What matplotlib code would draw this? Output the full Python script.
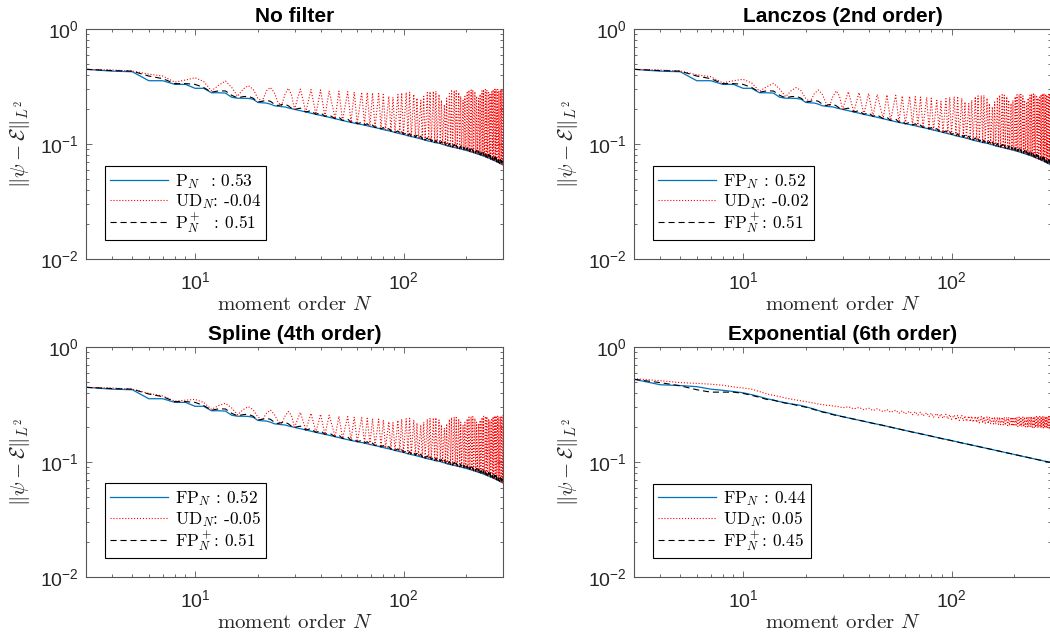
import matplotlib
matplotlib.use("Agg")
import matplotlib.pyplot as plt
from matplotlib.ticker import LogLocator, NullFormatter
import numpy as np

plt.rcParams['font.family'] = ['Liberation Sans', 'DejaVu Sans']
plt.rcParams['mathtext.fontset'] = 'cm'
plt.rcParams['axes.unicode_minus'] = False

# moment orders: every order up to 29, then alternating troughs / peaks of the UD oscillation
n_lo = list(range(3, 30))
n_trough = [30, 34, 38, 42, 47, 51, 56, 60, 65, 69,
            73, 78, 82, 87, 91, 96, 100, 105, 109, 114,
            118, 123, 127, 132, 136, 141, 145, 150, 154, 159,
            163, 168, 172, 177, 181, 186, 190, 195, 199, 204,
            208, 213, 217, 222, 226, 231, 235, 240, 244, 249,
            253, 258, 262, 267, 271, 276, 280, 285, 289, 294, 298]
n_peak = [32, 36, 40, 44, 49, 54, 58, 63, 67, 71,
          76, 80, 85, 89, 94, 98, 103, 107, 112, 116,
          121, 125, 130, 134, 139, 143, 148, 152, 157, 161,
          166, 170, 175, 179, 184, 188, 193, 197, 202, 206,
          211, 215, 220, 224, 229, 233, 238, 242, 247, 251,
          256, 260, 265, 269, 274, 278, 283, 287, 292, 296, 300]

# P_N / FP_N error (first three filters give the same curve)
pn_lo = [0.446, 0.43, 0.425, 0.355, 0.355, 0.33, 0.33, 0.305, 0.305, 0.279,
         0.279, 0.277, 0.255, 0.25, 0.25, 0.249, 0.245, 0.23, 0.228, 0.227,
         0.222, 0.215, 0.213, 0.211, 0.21, 0.206, 0.203]
pn_hi = [0.200, 0.190, 0.181, 0.174, 0.166, 0.160, 0.154, 0.150, 0.146, 0.142,
         0.139, 0.135, 0.132, 0.129, 0.126, 0.123, 0.121, 0.118, 0.116, 0.114,
         0.112, 0.110, 0.108, 0.106, 0.105, 0.103, 0.102, 0.101, 0.099, 0.098,
         0.096, 0.095, 0.094, 0.093, 0.092, 0.091, 0.090, 0.089, 0.088, 0.087,
         0.086, 0.085, 0.084, 0.083, 0.082, 0.081, 0.080, 0.079, 0.078, 0.077,
         0.076, 0.075, 0.074, 0.073, 0.072, 0.071, 0.070, 0.069, 0.068, 0.067, 0.066]

# P_N^+ error
pnp_lo = [0.446, 0.435, 0.43, 0.39, 0.37, 0.335, 0.335, 0.33, 0.31, 0.282,
          0.29, 0.289, 0.265, 0.252, 0.258, 0.26, 0.25, 0.232, 0.235, 0.24,
          0.235, 0.222, 0.216, 0.22, 0.222, 0.215, 0.205]
pnp_pk = [0.205, 0.195, 0.187, 0.179, 0.171, 0.165, 0.159, 0.154, 0.150, 0.146,
          0.143, 0.139, 0.136, 0.133, 0.130, 0.128, 0.125, 0.123, 0.121, 0.119,
          0.117, 0.115, 0.113, 0.111, 0.110, 0.108, 0.107, 0.105, 0.104, 0.102,
          0.101, 0.100, 0.099, 0.098, 0.097, 0.096, 0.095, 0.094, 0.093, 0.092,
          0.091, 0.090, 0.089, 0.088, 0.087, 0.086, 0.085, 0.084, 0.083, 0.082,
          0.081, 0.080, 0.079, 0.078, 0.077, 0.076, 0.075, 0.074, 0.073, 0.072, 0.071]

# UD_N error, one list per filter
ud_none_lo = [0.446, 0.44, 0.432, 0.405, 0.39, 0.345, 0.36, 0.377, 0.35, 0.29,
              0.325, 0.353, 0.31, 0.26, 0.30, 0.322, 0.30, 0.25, 0.235, 0.29,
              0.31, 0.28, 0.23, 0.215, 0.27, 0.305, 0.27]
ud_none_pk = [0.300, 0.298, 0.295, 0.290, 0.288, 0.285, 0.283, 0.282, 0.280, 0.278,
              0.275, 0.270, 0.260, 0.255, 0.270, 0.278, 0.280, 0.282, 0.270, 0.250,
              0.240, 0.260, 0.280, 0.285, 0.287, 0.288, 0.270, 0.240, 0.220, 0.250,
              0.275, 0.290, 0.292, 0.290, 0.280, 0.260, 0.240, 0.260, 0.280, 0.293,
              0.295, 0.295, 0.285, 0.260, 0.250, 0.270, 0.290, 0.297, 0.298, 0.295,
              0.280, 0.270, 0.285, 0.296, 0.300, 0.300, 0.298, 0.290, 0.295, 0.300, 0.302]

ud_lanczos_lo = [0.446, 0.44, 0.432, 0.40, 0.385, 0.34, 0.355, 0.365, 0.34, 0.288,
                 0.315, 0.337, 0.30, 0.258, 0.29, 0.31, 0.29, 0.248, 0.233, 0.275,
                 0.295, 0.27, 0.228, 0.214, 0.26, 0.29, 0.262]
ud_lanczos_pk = [0.285, 0.280, 0.275, 0.270, 0.268, 0.265, 0.262, 0.260, 0.258, 0.256,
                 0.254, 0.250, 0.240, 0.235, 0.248, 0.255, 0.258, 0.260, 0.250, 0.232,
                 0.225, 0.240, 0.258, 0.262, 0.264, 0.265, 0.250, 0.225, 0.210, 0.232,
                 0.255, 0.266, 0.268, 0.266, 0.258, 0.240, 0.225, 0.240, 0.258, 0.268,
                 0.270, 0.270, 0.262, 0.240, 0.232, 0.250, 0.266, 0.272, 0.272, 0.270,
                 0.258, 0.250, 0.262, 0.270, 0.274, 0.274, 0.272, 0.265, 0.270, 0.275, 0.278]

ud_spline_lo = [0.446, 0.44, 0.43, 0.395, 0.375, 0.338, 0.345, 0.35, 0.33, 0.287,
                0.31, 0.324, 0.295, 0.257, 0.285, 0.303, 0.285, 0.247, 0.232, 0.265,
                0.283, 0.26, 0.226, 0.213, 0.25, 0.275, 0.255]
ud_spline_pk = [0.270, 0.265, 0.260, 0.255, 0.250, 0.248, 0.245, 0.243, 0.240, 0.238,
                0.236, 0.232, 0.224, 0.220, 0.230, 0.236, 0.238, 0.240, 0.232, 0.218,
                0.210, 0.222, 0.236, 0.240, 0.242, 0.243, 0.232, 0.210, 0.198, 0.215,
                0.235, 0.244, 0.246, 0.244, 0.237, 0.222, 0.210, 0.222, 0.237, 0.246,
                0.248, 0.248, 0.240, 0.222, 0.215, 0.230, 0.244, 0.250, 0.250, 0.248,
                0.237, 0.230, 0.240, 0.248, 0.252, 0.252, 0.250, 0.244, 0.248, 0.252, 0.255]

# exponential filter
exp_fp_lo = [0.524, 0.47, 0.462, 0.452, 0.43, 0.42, 0.41, 0.40, 0.385, 0.37,
             0.355, 0.345, 0.335, 0.327, 0.32, 0.315, 0.31, 0.302, 0.295, 0.288,
             0.28, 0.274, 0.27, 0.265, 0.26, 0.256, 0.252]
exp_fp_hi = [0.248, 0.236, 0.226, 0.217, 0.208, 0.201, 0.1935, 0.188, 0.182, 0.178,
             0.174, 0.1695, 0.166, 0.162, 0.159, 0.156, 0.1535, 0.1505, 0.148, 0.1455,
             0.1436, 0.1412, 0.1395, 0.1373, 0.1357, 0.1338, 0.1323, 0.1305, 0.1292, 0.1275,
             0.1262, 0.1247, 0.1235, 0.1221, 0.121, 0.1197, 0.1188, 0.1175, 0.1165, 0.1154,
             0.1145, 0.1134, 0.1125, 0.1115, 0.1107, 0.1098, 0.109, 0.1081, 0.1074, 0.1065,
             0.1058, 0.105, 0.1044, 0.1036, 0.103, 0.1022, 0.1016, 0.1009, 0.1004, 0.0997, 0.0992]
exp_fpp_lo = [0.524, 0.49, 0.46, 0.425, 0.405, 0.405, 0.405, 0.395, 0.38, 0.365,
              0.35, 0.345, 0.333, 0.325, 0.32, 0.312, 0.305, 0.30, 0.293, 0.285,
              0.28, 0.272, 0.268, 0.262, 0.258, 0.254, 0.25]
exp_ud_lo = [0.53, 0.51, 0.49, 0.483, 0.475, 0.465, 0.45, 0.44, 0.43, 0.41,
             0.39, 0.38, 0.37, 0.36, 0.352, 0.346, 0.34, 0.335, 0.33, 0.325,
             0.319, 0.316, 0.312, 0.31, 0.307, 0.305, 0.302]
exp_ud_tr = [0.296, 0.29, 0.285, 0.28, 0.274, 0.27, 0.265, 0.262, 0.258, 0.255,
             0.252, 0.248, 0.245, 0.242, 0.24, 0.237, 0.235, 0.232, 0.23, 0.228,
             0.226, 0.224, 0.222, 0.221, 0.219, 0.218, 0.217, 0.216, 0.215, 0.214,
             0.213, 0.212, 0.211, 0.21, 0.209, 0.208, 0.207, 0.206, 0.205, 0.205,
             0.204, 0.204, 0.203, 0.203, 0.202, 0.202, 0.201, 0.201, 0.2, 0.2,
             0.2, 0.199, 0.199, 0.199, 0.198, 0.198, 0.198, 0.197, 0.197, 0.197, 0.196]
exp_ud_pk = [0.302, 0.298, 0.294, 0.290, 0.286, 0.282, 0.279, 0.276, 0.274, 0.271,
             0.268, 0.266, 0.264, 0.262, 0.260, 0.258, 0.256, 0.255, 0.254, 0.252,
             0.251, 0.250, 0.249, 0.249, 0.248, 0.248, 0.247, 0.247, 0.246, 0.246,
             0.246, 0.245, 0.245, 0.245, 0.245, 0.245, 0.245, 0.245, 0.245, 0.246,
             0.246, 0.246, 0.246, 0.246, 0.247, 0.247, 0.247, 0.247, 0.247, 0.248,
             0.248, 0.248, 0.248, 0.248, 0.248, 0.248, 0.248, 0.248, 0.248, 0.248, 0.248]

titles = ['No filter', 'Lanczos (2nd order)', 'Spline (4th order)', 'Exponential (6th order)']
legend_labels = [
    [r'$\mathrm{P}_N$  : 0.53', r'$\mathrm{UD}_N$: -0.04', r'$\mathrm{P}_N^+$  : 0.51'],
    [r'$\mathrm{FP}_N$ : 0.52', r'$\mathrm{UD}_N$: -0.02', r'$\mathrm{FP}_N^+$: 0.51'],
    [r'$\mathrm{FP}_N$ : 0.52', r'$\mathrm{UD}_N$: -0.05', r'$\mathrm{FP}_N^+$: 0.51'],
    [r'$\mathrm{FP}_N$ : 0.44', r'$\mathrm{UD}_N$: 0.05', r'$\mathrm{FP}_N^+$: 0.45'],
]


def interleave(a, b):
    out = []
    for x, y in zip(a, b):
        out += [x, y]
    return out


n_osc = n_lo + interleave(n_trough, n_peak)
n_smooth = n_lo + n_trough

panels = [
    (n_smooth, pn_lo + pn_hi, ud_none_lo + interleave(pn_hi, ud_none_pk),
     pnp_lo + interleave(pn_hi, pnp_pk), n_osc),
    (n_smooth, pn_lo + pn_hi, ud_lanczos_lo + interleave(pn_hi, ud_lanczos_pk),
     pnp_lo + interleave(pn_hi, pnp_pk), n_osc),
    (n_smooth, pn_lo + pn_hi, ud_spline_lo + interleave(pn_hi, ud_spline_pk),
     pnp_lo + interleave(pn_hi, pnp_pk), n_osc),
    (n_smooth, exp_fp_lo + exp_fp_hi, exp_ud_lo + interleave(exp_ud_tr, exp_ud_pk),
     exp_fpp_lo + exp_fp_hi, n_smooth),
]

W, H = 1050, 644
fig = plt.figure(figsize=(W / 100, H / 100), dpi=100)

# axes boxes in pixels: left, top
boxes = [(86, 29), (634, 29), (86, 347), (634, 347)]
ax_w, ax_h = 417, 230

text_col = '#262626'
spine_col = '#555555'

for k, (left, top) in enumerate(boxes):
    ax = fig.add_axes([left / W, 1 - (top + ax_h) / H, ax_w / W, ax_h / H])
    n_b, v_b, v_r, v_k, n_k = panels[k]
    ax.plot(n_b, v_b, color='#0072BD', lw=0.9, label=legend_labels[k][0])
    ax.plot(n_osc, v_r, color='red', lw=0.8, ls=':', label=legend_labels[k][1])
    ax.plot(n_k, v_k, color='black', lw=0.8, dashes=(5.5, 3.5), label=legend_labels[k][2])
    ax.set_xscale('log')
    ax.set_yscale('log')
    ax.set_xlim(3, 300)
    ax.set_ylim(1e-2, 1)

    ax.xaxis.set_major_locator(LogLocator(base=10, numticks=10))
    ax.xaxis.set_minor_locator(LogLocator(base=10, subs=np.arange(2, 10), numticks=20))
    ax.yaxis.set_minor_locator(LogLocator(base=10, subs=np.arange(2, 10), numticks=20))
    ax.xaxis.set_minor_formatter(NullFormatter())
    ax.yaxis.set_minor_formatter(NullFormatter())
    ax.tick_params(which='both', direction='in', top=True, right=True,
                   color=spine_col, width=0.6, labelcolor=text_col, labelsize=14)
    ax.tick_params(which='major', length=4)
    ax.tick_params(which='minor', length=2.2)
    ax.tick_params(axis='x', which='major', pad=9)
    ax.tick_params(axis='y', which='major', pad=5)
    for sp in ax.spines.values():
        sp.set_color(spine_col)
        sp.set_linewidth(0.8)

    ax.set_title(titles[k], fontsize=15, fontweight='bold', pad=5)
    ax.set_xlabel(r'moment order $N$', family='cmr10', fontsize=15,
                  color=text_col, labelpad=2)
    ax.set_ylabel(r'$\Vert\psi - \mathcal{E}\Vert_{L^2}$', fontsize=15,
                  color=text_col, labelpad=6)

    leg = ax.legend(loc='lower left', prop={'family': 'cmr10', 'size': 12.5},
                    handlelength=3.3, handletextpad=0.4, labelspacing=0.02,
                    borderpad=0.3, borderaxespad=1.1, fancybox=False, framealpha=1)
    leg.get_frame().set_edgecolor('black')
    leg.get_frame().set_linewidth(0.8)

fig.savefig('out.png', dpi=100)
